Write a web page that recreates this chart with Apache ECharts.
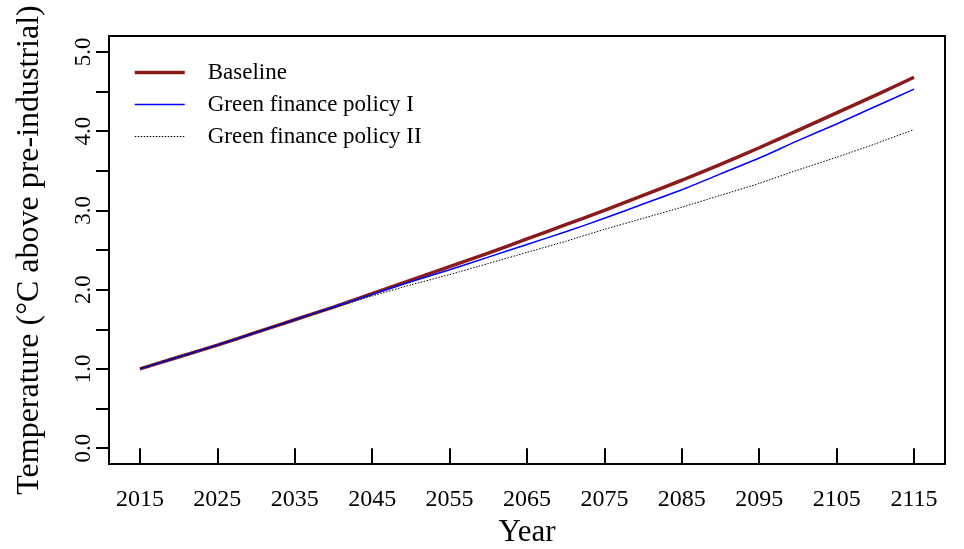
<!DOCTYPE html>
<html>
<head>
<meta charset="utf-8">
<script src="https://cdn.jsdelivr.net/npm/echarts@6/dist/echarts.min.js"></script>
<style>
html,body{margin:0;padding:0;background:#fff;}
#chart{width:964px;height:549px;}
</style>
</head>
<body>
<div id="chart"></div>
<script>
const years = [2015,2020,2025,2030,2035,2040,2045,2050,2055,2060,2065,2070,2075,2080,2085,2090,2095,2100,2105,2110,2115];
const baseline = [1.00,1.15,1.30,1.46,1.62,1.78,1.95,2.12,2.29,2.46,2.64,2.82,3.00,3.19,3.38,3.58,3.79,4.01,4.23,4.45,4.68];
const policyI  = [1.00,1.15,1.30,1.46,1.62,1.78,1.94,2.10,2.25,2.41,2.57,2.73,2.90,3.08,3.26,3.46,3.66,3.88,4.09,4.31,4.53];
const policyII = [1.00,1.15,1.30,1.46,1.62,1.77,1.92,2.06,2.19,2.33,2.47,2.61,2.76,2.90,3.04,3.19,3.34,3.51,3.67,3.84,4.02];
const seriesNames = ['Baseline','Green finance policy I','Green finance policy II'];
const xTickYears = [2015,2025,2035,2045,2055,2065,2075,2085,2095,2105,2115];
const yTickValues = [0,0.5,1,1.5,2,2.5,3,3.5,4,4.5,5];
const yLabelValues = [0,1,2,3,4,5];

const FONT = 'Liberation Serif';
const pairs = arr => years.map((y,i)=>[y, arr[i]]);
const colors = ['#8B1A1A','#0000FF','#000000'];
const widths = [3.5,1.5,1];
const types = ['solid','solid',[1.5,1.5]];

const chart = echarts.init(document.getElementById('chart'), null, {renderer:'canvas'});
chart.setOption({
  animation:false,
  backgroundColor:'#fff',
  textStyle:{fontFamily:FONT,color:'#000'},
  grid:{left:109,right:19,top:36,bottom:85,show:true,borderColor:'#000',borderWidth:2,backgroundColor:'transparent',outerBoundsMode:'none'},
  legend:{
    orient:'vertical',left:133,top:61,padding:0,
    itemWidth:50,itemHeight:20,itemGap:9,
    itemStyle:{opacity:0,borderWidth:0},
    textStyle:{fontFamily:FONT,fontSize:23,color:'#000',padding:[0,0,0,18]},
    data:seriesNames.map((n,i)=>({name:n,lineStyle:{color:colors[i],width:widths[i],type:types[i]}}))
  },
  xAxis:{
    type:'value',min:2011,max:2119,
    name:'Year',nameLocation:'middle',nameGap:48,
    nameTextStyle:{fontFamily:FONT,fontSize:31,color:'#000'},
    axisLine:{show:false},
    splitLine:{show:false},
    axisTick:{show:true,length:16,customValues:xTickYears,lineStyle:{color:'#000',width:2}},
    axisLabel:{customValues:xTickYears,margin:24,fontFamily:FONT,fontSize:24,color:'#000',
      formatter:v=>String(v)}
  },
  yAxis:{
    type:'value',min:-0.2,max:5.2,
    name:'Temperature (°C above pre-industrial)',nameLocation:'middle',nameGap:63,
    nameTextStyle:{fontFamily:FONT,fontSize:32,color:'#000'},
    axisLine:{show:false},
    splitLine:{show:false},
    axisTick:{show:true,length:13,customValues:yTickValues,lineStyle:{color:'#000',width:2}},
    axisLabel:{customValues:yLabelValues,rotate:90,margin:14,fontFamily:FONT,fontSize:23,color:'#000',
      formatter:v=>v.toFixed(1)}
  },
  series:[
    {name:seriesNames[0],type:'line',data:pairs(baseline),symbol:'none',smooth:0.2,
      lineStyle:{color:colors[0],width:widths[0],type:types[0]},itemStyle:{color:colors[0]}},
    {name:seriesNames[1],type:'line',data:pairs(policyI),symbol:'none',smooth:0.2,
      lineStyle:{color:colors[1],width:widths[1],type:types[1]},itemStyle:{color:colors[1]}},
    {name:seriesNames[2],type:'line',data:pairs(policyII),symbol:'none',smooth:0.2,
      lineStyle:{color:colors[2],width:widths[2],type:types[2]},itemStyle:{color:colors[2]}}
  ]
});
</script>
</body>
</html>
